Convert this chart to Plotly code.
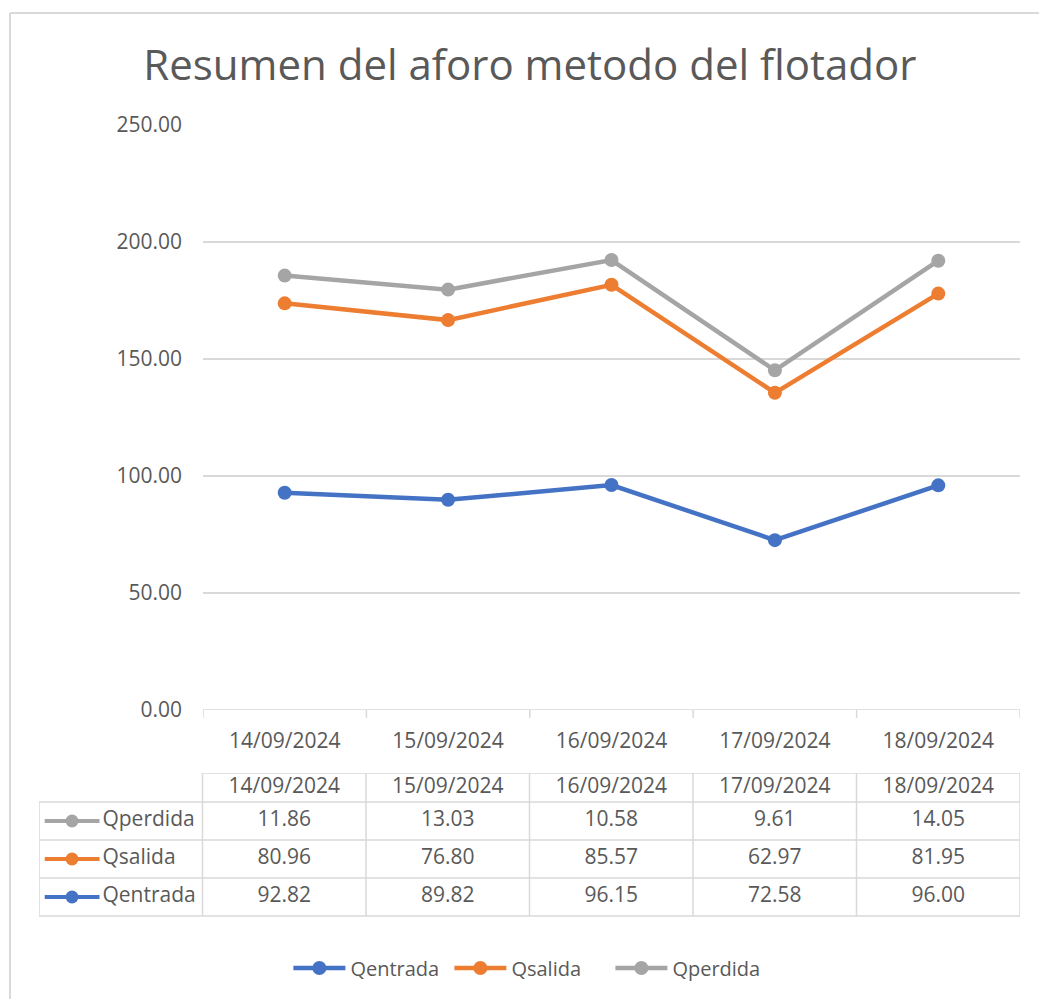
import plotly.graph_objects as go

# ---------------- data ----------------
fechas = ["14/09/2024", "15/09/2024", "16/09/2024", "17/09/2024", "18/09/2024"]
qentrada = [92.82, 89.82, 96.15, 72.58, 96.00]
qsalida = [80.96, 76.80, 85.57, 62.97, 81.95]
qperdida = [11.86, 13.03, 10.58, 9.61, 14.05]
series_names = ["Qentrada", "Qsalida", "Qperdida"]
series_vals = [qentrada, qsalida, qperdida]
colors = ["#4472C4", "#ED7D31", "#A5A5A5"]
y_ticks = [0, 50, 100, 150, 200, 250]

W, H = 1039, 999
TXT = "#595959"
GRID = "#D9D9D9"
FONT = "Open Sans"
FS = 21

def px_x(p):
    return p / W

def px_y(p):
    return 1 - p / H

fig = go.Figure()

# stacked lines (Excel "stacked line")
cum = [0.0] * len(fechas)
for name, vals, col in zip(series_names, series_vals, colors):
    cum = [c + v for c, v in zip(cum, vals)]
    fig.add_trace(go.Scatter(
        x=list(range(len(fechas))), y=cum, name=name, mode="lines+markers",
        line=dict(color=col, width=4.5), marker=dict(color=col, size=14),
        customdata=vals, hovertemplate="%{customdata:.2f}<extra>" + name + "</extra>",
        xaxis="x", yaxis="y", showlegend=True,
    ))

# ---------------- data table (on x2/y2) ----------------
HDR_H = 29
ROW_H = 38
n = len(fechas)
table_rows = list(reversed(list(zip(series_names, series_vals, colors))))
table_bottom = HDR_H + ROW_H * len(table_rows)

fig.add_trace(go.Scatter(
    x=list(range(n)), y=[HDR_H / 2] * n, text=fechas, mode="text",
    textfont=dict(family=FONT, size=FS, color=TXT), xaxis="x2", yaxis="y2",
    showlegend=False, hoverinfo="skip",
))
for r, (name, vals, col) in enumerate(table_rows):
    yc = HDR_H + ROW_H * r + ROW_H / 2
    fig.add_trace(go.Scatter(
        x=list(range(n)), y=[yc] * n, text=[f"{v:.2f}" for v in vals], mode="text",
        textfont=dict(family=FONT, size=FS, color=TXT), xaxis="x2", yaxis="y2",
        showlegend=False, hoverinfo="skip",
    ))
    fig.add_trace(go.Scatter(
        x=[-1.465, -1.13], y=[yc, yc], mode="lines",
        line=dict(color=col, width=4), xaxis="x2", yaxis="y2",
        showlegend=False, hoverinfo="skip",
    ))
    fig.add_trace(go.Scatter(
        x=[-1.298], y=[yc], mode="markers",
        marker=dict(color=col, size=13), xaxis="x2", yaxis="y2",
        showlegend=False, hoverinfo="skip",
    ))
    fig.add_trace(go.Scatter(
        x=[-1.112], y=[yc], text=[name], mode="text", textposition="middle right",
        textfont=dict(family=FONT, size=FS, color=TXT), xaxis="x2", yaxis="y2",
        showlegend=False, hoverinfo="skip",
    ))

shapes = []
lw = 1.5
shapes.append(dict(type="line", xref="x2", yref="y2", x0=-0.5, x1=n - 0.5, y0=0, y1=0,
                   line=dict(color=GRID, width=lw)))
for r in range(len(table_rows) + 1):
    yy = HDR_H + ROW_H * r
    shapes.append(dict(type="line", xref="x2", yref="y2", x0=-1.5, x1=n - 0.5, y0=yy, y1=yy,
                       line=dict(color=GRID, width=lw)))
shapes.append(dict(type="line", xref="x2", yref="y2", x0=-1.5, x1=-1.5, y0=HDR_H, y1=table_bottom,
                   line=dict(color=GRID, width=lw)))
for c in range(n + 1):
    xx = c - 0.5
    shapes.append(dict(type="line", xref="x2", yref="y2", x0=xx, x1=xx, y0=0, y1=table_bottom,
                       line=dict(color=GRID, width=lw)))
# chart border (left and top edges visible)
shapes.append(dict(type="line", xref="paper", yref="paper", x0=px_x(10), x1=px_x(10),
                   y0=0, y1=px_y(13), line=dict(color=GRID, width=2)))
shapes.append(dict(type="line", xref="paper", yref="paper", x0=px_x(10), x1=1,
                   y0=px_y(13), y1=px_y(13), line=dict(color=GRID, width=2)))

# axis line at 0 and boundary tick marks
shapes.append(dict(type="line", xref="x", yref="y", x0=-0.5, x1=n - 0.5, y0=0, y1=0,
                   line=dict(color=GRID, width=1.5)))
for c in range(n + 1):
    shapes.append(dict(type="line", xref="x", yref="paper", x0=c - 0.5, x1=c - 0.5,
                       y0=px_y(718), y1=px_y(710), line=dict(color=GRID, width=1.5)))

plot_l, plot_r = 203, 1020
fig.update_layout(
    width=W, height=H, autosize=False,
    margin=dict(l=0, r=0, t=0, b=0, pad=0, autoexpand=False),
    paper_bgcolor="white", plot_bgcolor="white",
    font=dict(family=FONT, color=TXT),
    title=dict(text="Resumen del aforo metodo del flotador", x=0.51, xanchor="center",
               y=px_y(65), yanchor="middle",
               font=dict(family=FONT, size=42, color=TXT)),
    xaxis=dict(domain=[px_x(plot_l), px_x(plot_r)], range=[-0.5, n - 0.5],
               tickmode="array", tickvals=list(range(n)), ticktext=fechas,
               showgrid=False, zeroline=False, showline=False, automargin=False,
               ticks="", tickfont=dict(family=FONT, size=FS, color=TXT),
               ticklabelstandoff=16, fixedrange=True),
    yaxis=dict(domain=[px_y(710), px_y(125)], range=[0, 250], tickvals=y_ticks,
               tickformat=".2f", showgrid=True, gridcolor=GRID, gridwidth=1.5,
               zeroline=False, showline=False, ticks="", automargin=False,
               tickfont=dict(family=FONT, size=FS, color=TXT),
               ticklabelstandoff=20, fixedrange=True),
    xaxis2=dict(domain=[px_x(39), px_x(plot_r)], range=[-1.5, n - 0.5], anchor="y2",
                visible=False, fixedrange=True),
    yaxis2=dict(domain=[px_y(773 + 226), px_y(773)], range=[226, 0], anchor="x2",
                visible=False, fixedrange=True),
    legend=dict(orientation="h", x=0.51, xanchor="center", y=px_y(968), yanchor="middle",
                font=dict(family=FONT, size=20, color=TXT), itemwidth=52,
                entrywidth=94, entrywidthmode="pixels",
                bgcolor="rgba(0,0,0,0)"),
    shapes=shapes,
)

fig.write_html(
    "out.html",
    config={"displayModeBar": False},
    post_script="document.body.style.margin='0';document.body.style.overflow='hidden';"
                "document.documentElement.style.overflow='hidden';",
)
